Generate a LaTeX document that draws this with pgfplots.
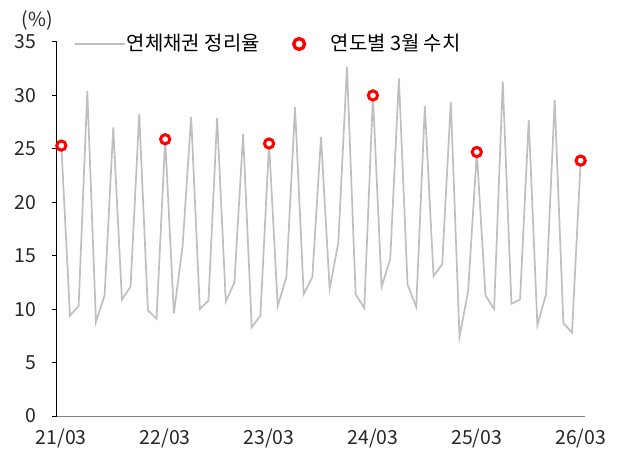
\documentclass[border=0pt]{standalone}
\usepackage{fontspec}
\setmainfont{Noto Sans CJK KR}
\usepackage{pgfplots}
\pgfplotsset{compat=1.18}
\definecolor{linegray}{RGB}{191,191,191}
\definecolor{axgray}{RGB}{128,128,128}
\definecolor{mred}{RGB}{255,0,0}

\pgfplotsset{
    lineleg/.style={legend image code/.code={\draw[##1] (0bp,0bp) -- (50bp,0bp);}},
    markleg/.style={legend image code/.code={\path[draw=none] (0bp,0bp) -- (45bp,0bp);
        \draw[mred, fill=white, line width=3.4bp] (15bp,0bp) circle[radius=5.4bp];}},
}

\pgfplotstableread{
x y
0 25.3
1 9.4
2 10.3
3 30.4
4 8.8
5 11.3
6 27.0
7 10.9
8 12.1
9 28.3
10 9.9
11 9.1
12 25.9
13 9.6
14 15.8
15 28.0
16 10.0
17 10.8
18 27.9
19 10.7
20 12.5
21 26.4
22 8.3
23 9.4
24 25.5
25 10.3
26 13.0
27 28.9
28 11.4
29 13.0
30 26.1
31 11.9
32 16.2
33 32.7
34 11.4
35 10.1
36 30.0
37 12.1
38 14.7
39 31.6
40 12.3
41 10.2
42 29.0
43 13.1
44 14.2
45 29.4
46 7.4
47 11.7
48 24.7
49 11.3
50 10.0
51 31.3
52 10.5
53 10.9
54 27.7
55 8.5
56 11.4
57 29.6
58 8.7
59 7.8
60 23.9
}\ratedata

\pgfplotstableread{
x y
0 25.3
12 25.9
24 25.5
36 30.0
48 24.7
60 23.9
}\marchdata

\begin{document}
\fontsize{19.5}{22}\selectfont
\begin{tikzpicture}
\useasboundingbox (-57bp,-34bp) rectangle (564bp,416bp);
\begin{axis}[
    scale only axis,
    width=528bp, height=374bp,
    xmin=-0.5, xmax=60.5,
    ymin=0, ymax=35,
    axis x line=bottom,
    axis y line=left,
    x axis line style={axgray, line width=1bp, -},
    y axis line style={black, line width=1bp, -},
    xtick={0,12,24,36,48,60},
    xticklabels={21/03,22/03,23/03,24/03,25/03,26/03},
    minor xtick={-0.5,11.5,23.5,35.5,47.5,59.5},
    ytick={0,5,...,35},
    tick align=outside,
    major tick length=5bp,
    minor tick length=5bp,
    xtick style={draw=none},
    minor x tick style={axgray, line width=1bp},
    ytick style={black, line width=1bp},
    /pgf/number format/assume math mode=true,
    ticklabel style={font=\fontsize{19.5}{22}\selectfont, text=black!85},
    yticklabel style={xshift=-9bp},
    xticklabel style={yshift=-1bp},
    clip=false,
    legend columns=2,
    legend style={draw=none, fill=none, inner sep=0pt, at={(rel axis cs:0,1)}, anchor=west,
        xshift=16.5bp, yshift=-2bp, font=\fontsize{20}{22}\selectfont,
        nodes={inner sep=1.5bp},
        /tikz/every odd column/.append style={column sep=0bp},
        /tikz/every even column/.append style={column sep=23bp}},
]
\addplot[linegray, line width=1.7bp, sharp plot, lineleg]
    table[x=x, y=y] {\ratedata};
\addlegendentry{연체채권 정리율}
\addplot[only marks, mark=*, mark size=4.6bp,
    mark options={draw=mred, fill=white, line width=3bp}, markleg]
    table[x=x, y=y] {\marchdata};
\addlegendentry{연도별 3월 수치}
\node[anchor=center, font=\fontsize{19.5}{22}\selectfont, text=black!85] at (rel axis cs:0,1) [xshift=-19.5bp, yshift=22bp] {(\%)};
\end{axis}
\end{tikzpicture}
\end{document}
